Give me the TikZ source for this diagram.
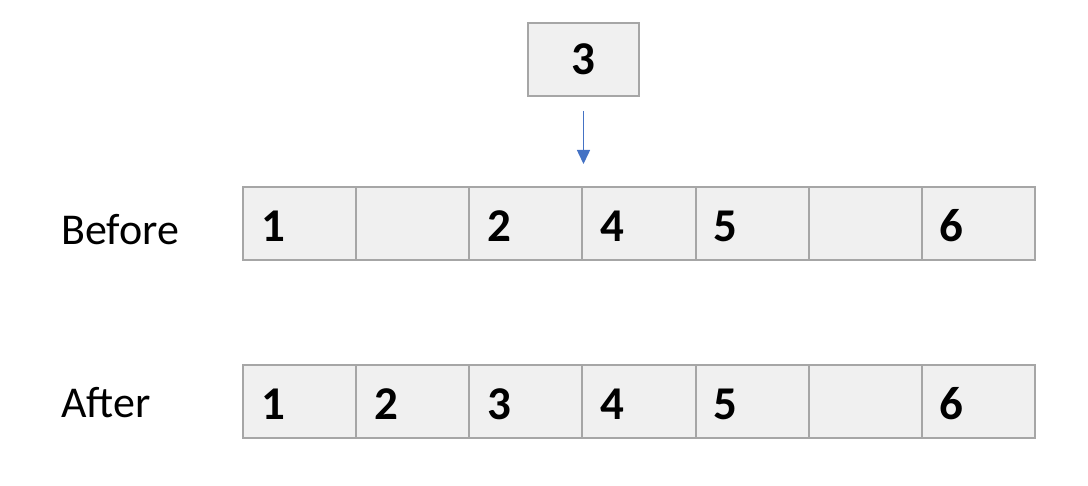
\documentclass[tikz,border=0pt]{standalone}
\usepackage{fontspec}
\setmainfont{Carlito}
\usetikzlibrary{arrows.meta}
\definecolor{cellfill}{HTML}{F0F0F0}
\definecolor{cellline}{HTML}{A6A6A6}
\definecolor{arrowblue}{HTML}{4472C4}
\begin{document}
\begin{tikzpicture}[x=1pt,y=-1pt,
  cell/.style={draw=cellline,fill=cellfill,line width=2pt,minimum width=113.14pt,minimum height=73pt,
    inner xsep=18pt,text width=77.14pt,text height=36pt,text depth=0pt,align=left,
    font=\fontsize{47}{47}\selectfont\bfseries,anchor=center},
  topbox/.style={draw=cellline,fill=cellfill,line width=2pt,minimum width=111pt,minimum height=73pt,
    text height=30pt,text depth=0pt,font=\fontsize{47}{47}\selectfont\bfseries},
  rowlabel/.style={font=\fontsize{44}{44}\selectfont,anchor=west,inner sep=0pt},
  arr/.style={draw=arrowblue,line width=1.5pt,-{Triangle[width=13pt,length=14pt]}}]
\useasboundingbox (0,0) rectangle (1088,486);
\foreach \i/\t in {1/1,2/,3/2,4/4,5/5,6/,7/6}{
  \node[cell] (b\i) at ({243+113.14*(\i-0.5)},223.5) {\t};
}
\foreach \i/\t in {1/1,2/2,3/3,4/4,5/5,6/,7/6}{
  \node[cell] (a\i) at ({243+113.14*(\i-0.5)},402) {\t};
}
\node[topbox] (top) at (583.5,59.5) {3};
\node[rowlabel] (before) at (61,230) {Before};
\node[rowlabel] (after) at (61,403) {After};
\coordinate (tip) at (583.5,164);
\draw[arr] ([yshift=-14pt]top.south) -- (tip);
\end{tikzpicture}
\end{document}
